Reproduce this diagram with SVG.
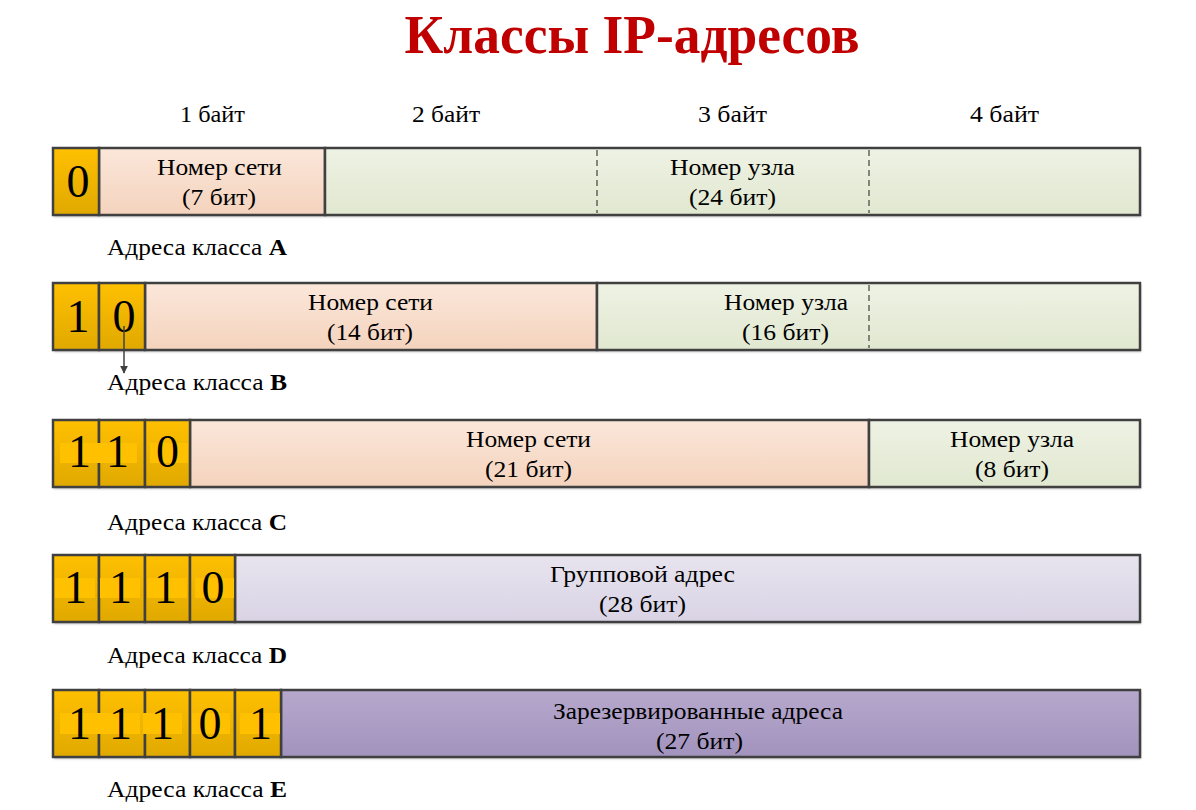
<svg xmlns="http://www.w3.org/2000/svg" width="1196" height="810" viewBox="0 0 1196 810">
<defs>
<linearGradient id="gGold" x1="0" y1="0" x2="0" y2="1"><stop offset="0" stop-color="#FFC000"/><stop offset="1" stop-color="#E0A900"/></linearGradient>
<linearGradient id="gPeach" x1="0" y1="0" x2="0" y2="1"><stop offset="0" stop-color="#FBE7DA"/><stop offset="1" stop-color="#F4D3BD"/></linearGradient>
<linearGradient id="gGreen" x1="0" y1="0" x2="0" y2="1"><stop offset="0" stop-color="#EEF2E4"/><stop offset="1" stop-color="#E1E8D0"/></linearGradient>
<linearGradient id="gLav" x1="0" y1="0" x2="0" y2="1"><stop offset="0" stop-color="#E8E4EE"/><stop offset="1" stop-color="#D9D3E5"/></linearGradient>
<linearGradient id="gPurp" x1="0" y1="0" x2="0" y2="1"><stop offset="0" stop-color="#B6A8CC"/><stop offset="1" stop-color="#A293BE"/></linearGradient>
<marker id="arr" viewBox="0 0 10 10" refX="9" refY="5" markerWidth="8" markerHeight="8" markerUnits="userSpaceOnUse" orient="auto"><path d="M0,0 L10,5 L0,10 z" fill="#404040"/></marker>
<filter id="sh" x="-5%" y="-20%" width="110%" height="140%"><feDropShadow dx="1" dy="2" stdDeviation="1" flood-color="#000" flood-opacity="0.25"/></filter>
</defs>
<style>
.seg{stroke:#404040;stroke-width:2.5}
.bit{fill:url(#gGold);stroke:#404040;stroke-width:2.5}
.hl{fill:#FFC000}
.dig{font-family:"Liberation Serif",serif;font-size:46px;fill:#000;text-anchor:middle}
.t{font-family:"Liberation Serif",serif;font-size:24px;fill:#000;text-anchor:middle}
.lbl{font-family:"Liberation Serif",serif;font-size:24px;fill:#000}
.dash{stroke:#404040;stroke-width:1.2;stroke-dasharray:6,4}
</style>
<rect width="1196" height="810" fill="#fff"/>
<text x="632" y="53" font-family="Liberation Serif,serif" font-size="54" font-weight="bold" fill="#C00000" text-anchor="middle" textLength="455" lengthAdjust="spacingAndGlyphs">Классы IP-адресов</text>
<g id="bytes">
<text class="t" x="212.5" y="122" textLength="65" lengthAdjust="spacingAndGlyphs">1 байт</text>
<text class="t" x="446" y="122" textLength="68" lengthAdjust="spacingAndGlyphs">2 байт</text>
<text class="t" x="732.5" y="122" textLength="69" lengthAdjust="spacingAndGlyphs">3 байт</text>
<text class="t" x="1004.5" y="122" textLength="69" lengthAdjust="spacingAndGlyphs">4 байт</text>
</g>
<g id="classA">
<rect x="53" y="148" width="1087" height="67" fill="#fff" filter="url(#sh)"/>
<rect class="seg" x="99" y="148" width="226" height="67" fill="url(#gPeach)"/>
<rect class="seg" x="325" y="148" width="815" height="67" fill="url(#gGreen)"/>
<line class="dash" x1="597" y1="150" x2="597" y2="213"/>
<line class="dash" x1="869" y1="150" x2="869" y2="213"/>
<rect class="bit" x="53" y="148" width="46" height="67"/>
<text class="dig" x="78" y="197">0</text>
<text class="t" x="219.5" y="175" textLength="125" lengthAdjust="spacingAndGlyphs">Номер сети</text>
<text class="t" x="219" y="205" textLength="74" lengthAdjust="spacingAndGlyphs">(7 бит)</text>
<text class="t" x="732.5" y="175" textLength="125" lengthAdjust="spacingAndGlyphs">Номер узла</text>
<text class="t" x="732.5" y="205" textLength="87" lengthAdjust="spacingAndGlyphs">(24 бит)</text>
<text class="lbl" x="107" y="255" textLength="180" lengthAdjust="spacingAndGlyphs">Адреса класса <tspan font-weight="bold">A</tspan></text>
</g>
<g id="classB">
<rect x="53" y="283" width="1087" height="67" fill="#fff" filter="url(#sh)"/>
<rect class="seg" x="145" y="283" width="452" height="67" fill="url(#gPeach)"/>
<rect class="seg" x="597" y="283" width="543" height="67" fill="url(#gGreen)"/>
<line class="dash" x1="869" y1="285" x2="869" y2="348"/>
<rect class="bit" x="53" y="283" width="46" height="67"/>
<rect class="bit" x="99" y="283" width="46" height="67"/>
<text class="dig" x="78" y="332">1</text>
<text class="dig" x="124" y="332">0</text>
<text class="t" x="370.5" y="310" textLength="125" lengthAdjust="spacingAndGlyphs">Номер сети</text>
<text class="t" x="370" y="340" textLength="86" lengthAdjust="spacingAndGlyphs">(14 бит)</text>
<text class="t" x="786" y="310" textLength="124" lengthAdjust="spacingAndGlyphs">Номер узла</text>
<text class="t" x="785.5" y="340" textLength="87" lengthAdjust="spacingAndGlyphs">(16 бит)</text>
<text class="lbl" x="107" y="390" textLength="180" lengthAdjust="spacingAndGlyphs">Адреса класса <tspan font-weight="bold">B</tspan></text>
</g>
<g id="classC">
<rect x="53" y="420" width="1087" height="67" fill="#fff" filter="url(#sh)"/>
<rect class="seg" x="190" y="420" width="679" height="67" fill="url(#gPeach)"/>
<rect class="seg" x="869" y="420" width="271" height="67" fill="url(#gGreen)"/>
<rect class="bit" x="53" y="420" width="46" height="67"/>
<rect class="bit" x="99" y="420" width="46" height="67"/>
<rect class="bit" x="145" y="420" width="45" height="67"/>
<rect class="hl" x="60" y="443" width="40" height="20"/>
<rect class="hl" x="100" y="443" width="37" height="20"/>
<rect class="hl" x="150" y="443" width="38" height="20"/>
<text class="dig" x="79.5" y="467">1</text>
<text class="dig" x="117.5" y="467">1</text>
<text class="dig" x="167.5" y="467">0</text>
<text class="t" x="528.5" y="447" textLength="125" lengthAdjust="spacingAndGlyphs">Номер сети</text>
<text class="t" x="528.5" y="477" textLength="87" lengthAdjust="spacingAndGlyphs">(21 бит)</text>
<text class="t" x="1012" y="447" textLength="124" lengthAdjust="spacingAndGlyphs">Номер узла</text>
<text class="t" x="1012" y="477" textLength="74" lengthAdjust="spacingAndGlyphs">(8 бит)</text>
<text class="lbl" x="107" y="530" textLength="180" lengthAdjust="spacingAndGlyphs">Адреса класса <tspan font-weight="bold">C</tspan></text>
</g>
<g id="classD">
<rect x="53" y="555" width="1087" height="67" fill="#fff" filter="url(#sh)"/>
<rect class="seg" x="235" y="555" width="905" height="67" fill="url(#gLav)"/>
<rect class="bit" x="53" y="555" width="46" height="67"/>
<rect class="bit" x="99" y="555" width="46" height="67"/>
<rect class="bit" x="145" y="555" width="45" height="67"/>
<rect class="bit" x="190" y="555" width="45" height="67"/>
<rect class="hl" x="55" y="578" width="40" height="20"/>
<rect class="hl" x="100" y="578" width="40" height="20"/>
<rect class="hl" x="147" y="578" width="40" height="20"/>
<rect class="hl" x="195" y="578" width="39" height="20"/>
<text class="dig" x="75.5" y="603">1</text>
<text class="dig" x="120.5" y="603">1</text>
<text class="dig" x="165.5" y="603">1</text>
<text class="dig" x="213" y="603">0</text>
<text class="t" x="642.5" y="582" textLength="185" lengthAdjust="spacingAndGlyphs">Групповой адрес</text>
<text class="t" x="642.5" y="612" textLength="87" lengthAdjust="spacingAndGlyphs">(28 бит)</text>
<text class="lbl" x="107" y="663" textLength="180" lengthAdjust="spacingAndGlyphs">Адреса класса <tspan font-weight="bold">D</tspan></text>
</g>
<g id="classE">
<rect x="53" y="690" width="1087" height="67" fill="#fff" filter="url(#sh)"/>
<rect class="seg" x="281" y="690" width="859" height="67" fill="url(#gPurp)"/>
<rect class="bit" x="53" y="690" width="46" height="67"/>
<rect class="bit" x="99" y="690" width="46" height="67"/>
<rect class="bit" x="145" y="690" width="45" height="67"/>
<rect class="bit" x="190" y="690" width="45" height="67"/>
<rect class="bit" x="235" y="690" width="46" height="67"/>
<rect class="hl" x="60" y="713" width="40" height="21"/>
<rect class="hl" x="100" y="713" width="40" height="21"/>
<rect class="hl" x="143" y="713" width="39" height="21"/>
<rect class="hl" x="192" y="713" width="38" height="21"/>
<rect class="hl" x="240" y="713" width="40" height="21"/>
<text class="dig" x="79.5" y="739">1</text>
<text class="dig" x="120.5" y="739">1</text>
<text class="dig" x="162.5" y="739">1</text>
<text class="dig" x="210" y="739">0</text>
<text class="dig" x="260.5" y="739">1</text>
<text class="t" x="698" y="719" textLength="290" lengthAdjust="spacingAndGlyphs">Зарезервированные адреса</text>
<text class="t" x="699.5" y="749" textLength="87" lengthAdjust="spacingAndGlyphs">(27 бит)</text>
<text class="lbl" x="107" y="797" textLength="180" lengthAdjust="spacingAndGlyphs">Адреса класса <tspan font-weight="bold">E</tspan></text>
</g>
<g id="connectors">
<line x1="124" y1="326" x2="124" y2="373" stroke="#404040" stroke-width="1.5" marker-end="url(#arr)"/>
</g>
</svg>
